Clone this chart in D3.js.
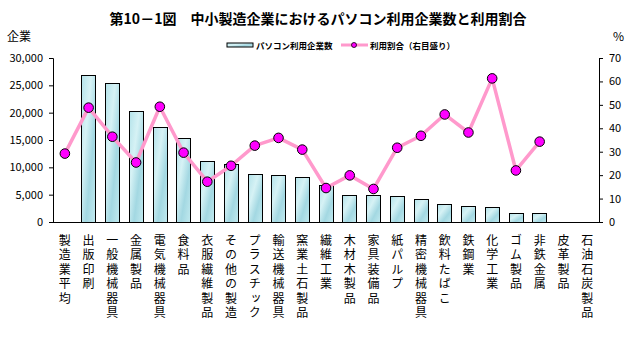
<!DOCTYPE html>
<html>
<head>
<meta charset="utf-8">
<title>パソコン利用企業数と利用割合</title>
<script src="https://d3js.org/d3.v7.min.js"></script>
<style>
body { margin: 0; padding: 0; background: #fff; }
text { font-family: "Noto Sans CJK JP", sans-serif; fill: #000; }
.vlab { writing-mode: vertical-rl; text-orientation: upright; }
</style>
</head>
<body>
<div id="chart"></div>
<script>
// 業種（縦書きラベル）
var categories = ["製造業平均", "出版印刷", "一般機械器具", "金属製品", "電気機械器具", "食料品",
  "衣服繊維製品", "その他の製造", "プラスチック", "輸送機械器具", "窯業土石製品", "繊維工業",
  "木材木製品", "家具装備品", "紙パルプ", "精密機械器具", "飲料たばこ", "鉄鋼業",
  "化学工業", "ゴム製品", "非鉄金属", "皮革製品", "石油石炭製品"];
// パソコン利用企業数（左目盛り）
var companies = [null, 26900, 25400, 20300, 17400, 15400, 11200, 10600, 8800, 8600, 8200, 6800,
  4900, 4900, 4750, 4200, 3300, 2900, 2750, 1650, 1650, null, null];
// 利用割合 %（右目盛り）
var ratio = [29.2, 48.8, 36.4, 25.4, 49.2, 29.6, 17.2, 24.0, 32.6, 35.9, 30.9, 14.5,
  19.9, 14.1, 31.7, 36.8, 45.9, 38.2, 61.3, 22.0, 34.3, null, null];
var leftTicks = [0, 5000, 10000, 15000, 20000, 25000, 30000];
var rightTicks = [0, 10, 20, 30, 40, 50, 60, 70];

var W = 635, H = 337;
var plot = {left: 53, right: 599, top: 58, bottom: 222};

var svg = d3.select("#chart").append("svg")
  .attr("width", W).attr("height", H);

// 棒の塗り（水色のグラデーション）
var defs = svg.append("defs");
var grad = defs.append("linearGradient").attr("id", "barFill")
  .attr("x1", 0).attr("y1", 0).attr("x2", 1).attr("y2", 1);
grad.append("stop").attr("offset", "0%").attr("stop-color", "#b4e3ea");
grad.append("stop").attr("offset", "35%").attr("stop-color", "#d6f2f5");
grad.append("stop").attr("offset", "65%").attr("stop-color", "#a3d8e2");
grad.append("stop").attr("offset", "100%").attr("stop-color", "#c2eaef");

var x = d3.scaleBand().domain(d3.range(categories.length))
  .range([plot.left, plot.right]).paddingInner(0.39).paddingOuter(0.195);
var xc = d3.scaleBand().domain(d3.range(categories.length))
  .range([plot.left, plot.right]);
var yL = d3.scaleLinear().domain([0, 30000]).range([plot.bottom, plot.top]);
var yR = d3.scaleLinear().domain([0, 70]).range([plot.bottom, plot.top]);

// タイトル
svg.append("text").attr("x", 318).attr("y", 24)
  .attr("text-anchor", "middle").attr("font-size", 14).attr("font-weight", 700)
  .text("第10－1図　中小製造企業におけるパソコン利用企業数と利用割合");
svg.append("text").attr("x", 7).attr("y", 41).attr("font-size", 12).text("企業");
svg.append("text").attr("x", 613).attr("y", 41).attr("font-size", 12).text("%");

// 凡例
var lg = svg.append("g").attr("font-size", 8.5).attr("font-weight", 700);
lg.append("rect").attr("x", 227).attr("y", 43).attr("width", 26).attr("height", 4)
  .attr("fill", "url(#barFill)").attr("stroke", "#000").attr("stroke-width", 1);
lg.append("text").attr("x", 256).attr("y", 48.5).text("パソコン利用企業数");
lg.append("line").attr("x1", 341).attr("x2", 368).attr("y1", 45).attr("y2", 45)
  .attr("stroke", "#ff99cc").attr("stroke-width", 3);
lg.append("circle").attr("cx", 354).attr("cy", 45).attr("r", 2.5)
  .attr("fill", "#ff00ff").attr("stroke", "#000").attr("stroke-width", 0.8);
lg.append("text").attr("x", 370).attr("y", 48.5).text("利用割合（右目盛り）");

// 棒
svg.append("g").selectAll("rect")
  .data(companies.map(function(v, i) { return {i: i, v: v}; }).filter(function(d) { return d.v != null; }))
  .enter().append("rect")
  .attr("x", function(d) { return Math.round(x(d.i)) + 0.5; })
  .attr("y", function(d) { return Math.round(yL(d.v)) + 0.5; })
  .attr("width", Math.round(x.bandwidth()))
  .attr("height", function(d) { return Math.round(plot.bottom - yL(d.v)); })
  .attr("fill", "url(#barFill)").attr("stroke", "#000").attr("stroke-width", 1);

// 軸
var axL = svg.append("g").attr("transform", "translate(" + plot.left + ",0)")
  .call(d3.axisLeft(yL).tickValues(leftTicks).tickSize(4).tickPadding(6)
    .tickFormat(d3.format(",")));
var axR = svg.append("g").attr("transform", "translate(" + plot.right + ",0)")
  .call(d3.axisRight(yR).tickValues(rightTicks).tickSize(4).tickPadding(6));
[axL, axR].forEach(function(a) {
  a.select(".domain").attr("stroke", "#000");
  a.selectAll("line").attr("stroke", "#000");
  a.selectAll("text").attr("font-size", 11).attr("font-family", "\"Noto Sans CJK JP\", sans-serif");
});
svg.append("line").attr("x1", plot.left).attr("x2", plot.right)
  .attr("y1", plot.bottom + 0.5).attr("y2", plot.bottom + 0.5)
  .attr("stroke", "#000");

// 折れ線
var pts = ratio.map(function(v, i) { return {i: i, v: v}; }).filter(function(d) { return d.v != null; });
var line = d3.line()
  .x(function(d) { return xc(d.i) + xc.bandwidth() / 2; })
  .y(function(d) { return yR(d.v); });
svg.append("path").datum(pts).attr("d", line)
  .attr("fill", "none").attr("stroke", "#ff99cc").attr("stroke-width", 3.5)
  .attr("stroke-linejoin", "round");
svg.append("g").selectAll("circle").data(pts).enter().append("circle")
  .attr("cx", function(d) { return xc(d.i) + xc.bandwidth() / 2; })
  .attr("cy", function(d) { return yR(d.v); })
  .attr("r", 4.8).attr("fill", "#ff00ff").attr("stroke", "#000").attr("stroke-width", 1);

// 縦書きの業種ラベル
svg.append("g").attr("font-size", 12).selectAll("text")
  .data(categories).enter().append("text")
  .attr("class", "vlab")
  .attr("x", function(d, i) { return xc(i) + xc.bandwidth() / 2; })
  .attr("y", 234)
  .attr("letter-spacing", 2.5)
  .text(function(d) { return d; });
</script>
</body>
</html>
